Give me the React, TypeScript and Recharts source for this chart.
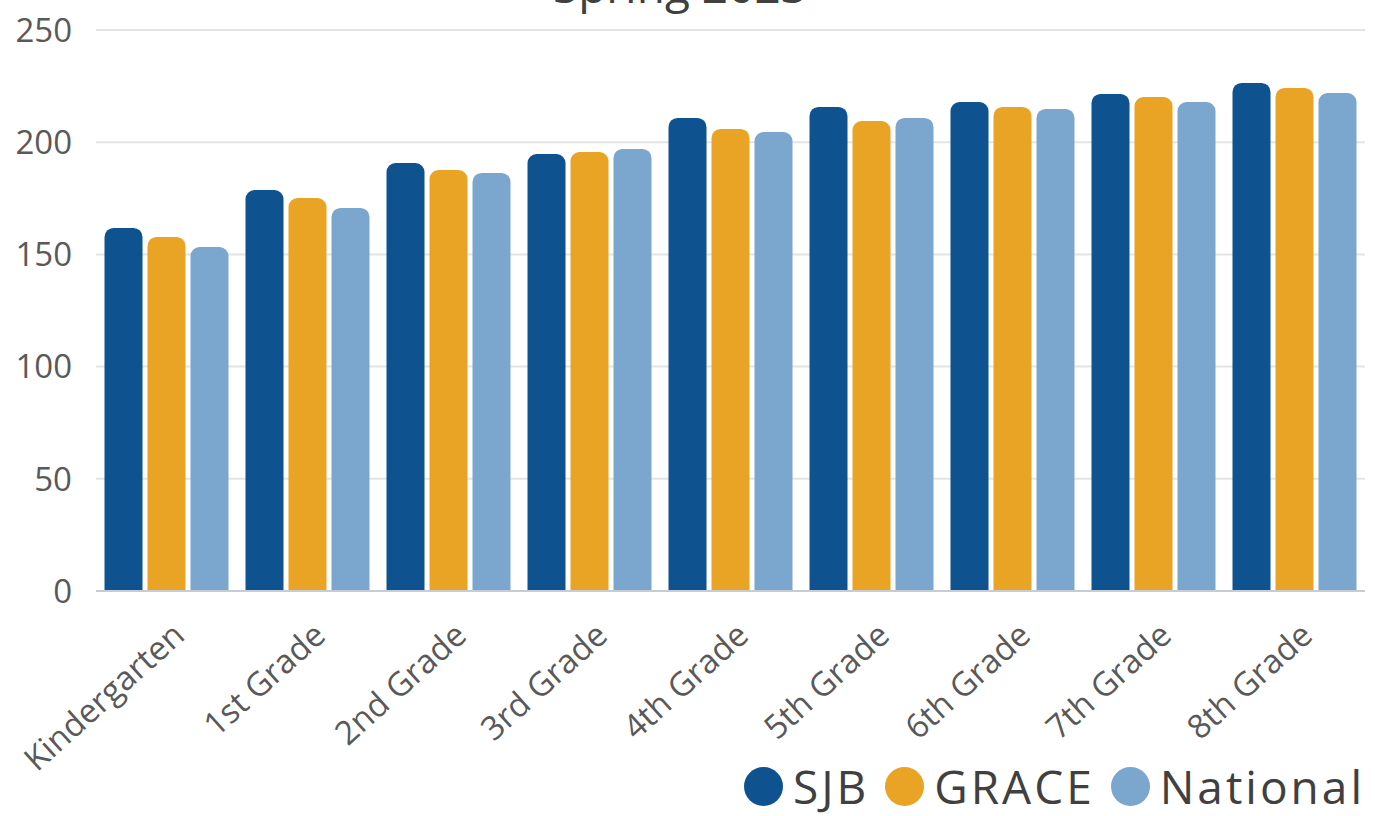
import React from "react"
import { BarChart, Bar, XAxis, YAxis, CartesianGrid, Legend } from "recharts"

const grades = ["Kindergarten", "1st Grade", "2nd Grade", "3rd Grade", "4th Grade", "5th Grade", "6th Grade", "7th Grade", "8th Grade"]
const sjb = [161.8, 178.7, 190.7, 194.7, 210.8, 215.7, 217.9, 221.5, 226.4]
const grace = [157.8, 175.1, 187.6, 195.6, 205.9, 209.4, 215.7, 220.1, 224.2]
const national = [153.3, 170.7, 186.3, 197.0, 204.5, 210.8, 214.8, 217.9, 221.9]
const yTicks = [0, 50, 100, 150, 200, 250]

const series = [
  { key: "SJB", color: "#0E5390" },
  { key: "GRACE", color: "#E9A325" },
  { key: "National", color: "#7BA6CE" },
]

const data = grades.map((g, i) => ({ grade: g, SJB: sjb[i], GRACE: grace[i], National: national[i] }))

const FONT = "'Open Sans', 'Noto Sans', sans-serif"

function GradeTick({ x, y, payload }: any) {
  return (
    <g transform={`translate(${x + 20},${y + 47})`}>
      <text transform="rotate(-42)" textAnchor="end" fill="#595959" fontSize={33} fontFamily={FONT}>
        {payload.value}
      </text>
    </g>
  )
}

function LegendRow() {
  return (
    <div style={{ height: 80, display: "flex", justifyContent: "flex-end", alignItems: "flex-end", paddingRight: 0, fontFamily: FONT, fontSize: 46, lineHeight: "46px", color: "#404040", letterSpacing: 3 }}>
      {series.map((s) => (
        <div key={s.key} style={{ display: "flex", alignItems: "center", marginLeft: 16, height: 60 }}>
          <span style={{ width: 39, height: 39, borderRadius: 20, background: s.color, display: "inline-block", marginRight: 10 }} />
          <span>{s.key}</span>
        </div>
      ))}
    </div>
  )
}

export default function App() {
  return (
    <div style={{ position: "absolute", left: 0, top: 0, width: 1375, height: 816, background: "#fff", overflow: "hidden" }}>
      <div style={{ position: "absolute", top: -38, left: 0, width: 1360, textAlign: "center", fontFamily: FONT, fontSize: 46, lineHeight: "46px", color: "#404040" }}>
        Spring 2023
      </div>
      <BarChart width={1375} height={816} data={data} margin={{ top: 30, right: 10, left: 0, bottom: 0 }} barCategoryGap={8.5} barGap={5}>
        <CartesianGrid vertical={false} stroke="#e4e4e4" strokeWidth={2} />
        <XAxis dataKey="grade" interval={0} height={145} tickLine={false} tickSize={0} tickMargin={0} axisLine={{ stroke: "#c5ccd6", strokeWidth: 2 }} tick={<GradeTick />} />
        <YAxis domain={[0, 250]} ticks={yTicks} width={96} axisLine={false} tickLine={false} tickSize={0} tickMargin={24} tick={{ fill: "#595959", fontSize: 33, fontFamily: FONT }} />
        <Legend verticalAlign="bottom" align="right" height={80} content={() => <LegendRow />} />
        {series.map((s) => (
          <Bar key={s.key} dataKey={s.key} fill={s.color} radius={[9, 9, 0, 0]} isAnimationActive={false} />
        ))}
      </BarChart>
    </div>
  )
}
